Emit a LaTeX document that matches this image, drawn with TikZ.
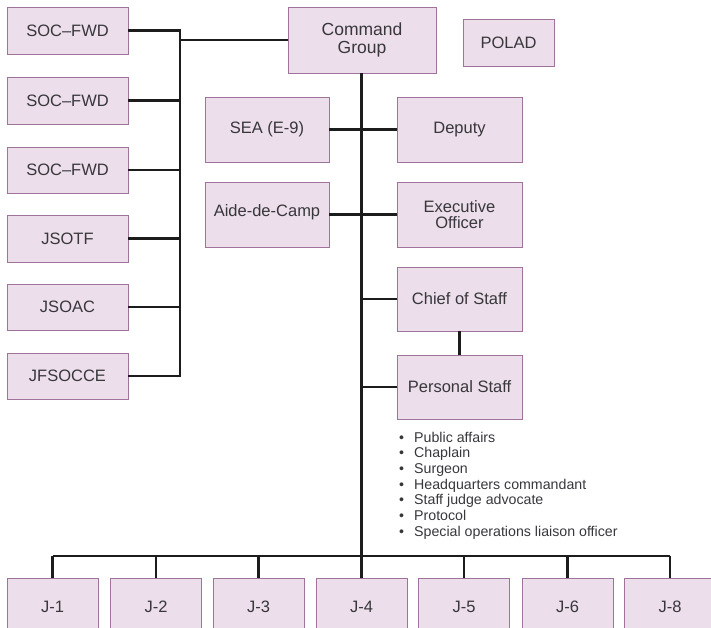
\documentclass[tikz,border=0pt]{standalone}
\usepackage{fontspec}
\setmainfont{Liberation Sans}
\definecolor{boxfill}{RGB}{236,222,234}
\definecolor{boxline}{RGB}{160,115,155}
\definecolor{txt}{RGB}{55,55,60}
\definecolor{conncol}{RGB}{28,28,28}
\begin{document}
\begin{tikzpicture}[x=1pt,y=-1pt,
  box/.style={draw=boxline, line width=0.9pt, fill=boxfill, text=txt,
    font=\fontsize{16.5}{16.5}\selectfont, align=center, inner sep=0pt},
  link/.style={draw=conncol, line width=2.6pt},
  bul/.style={anchor=base west, inner sep=0pt, text=txt, font=\fontsize{14.2}{15}\selectfont}]
\useasboundingbox (0,0) rectangle (711,628);
\clip (0,0) rectangle (711,628);
% left column
\node[box, minimum width=121pt, minimum height=47pt] (soc1) at (67.5,30.5) {SOC–FWD};
\node[box, minimum width=121pt, minimum height=47pt] (soc2) at (67.5,100.5) {SOC–FWD};
\node[box, minimum width=121pt, minimum height=46pt] (soc3) at (67.5,170) {SOC–FWD};
\node[box, minimum width=121pt, minimum height=47pt] (jsotf) at (67.5,238.5) {JSOTF};
\node[box, minimum width=121pt, minimum height=46pt] (jsoac) at (67.5,307) {JSOAC};
\node[box, minimum width=121pt, minimum height=46pt] (jfsocce) at (67.5,376) {JFSOCCE};
% command group
\node[box, minimum width=148pt, minimum height=66pt, font=\fontsize{17.5}{18}\selectfont] (cmd) at (362,40) {Command\\Group};
\node[box, minimum width=91pt, minimum height=47pt] (polad) at (508.5,42.5) {POLAD};
\node[box, minimum width=124pt, minimum height=65pt] (sea) at (267,129.5) {SEA (E-9)};
\node[box, minimum width=125pt, minimum height=65pt] (dep) at (459.5,129.5) {Deputy};
\node[box, minimum width=124pt, minimum height=65pt, text depth=8pt] (aide) at (267,214.5) {Aide-de-Camp};
\node[box, minimum width=125pt, minimum height=65pt] (exec) at (459.5,214.5) {Executive\\Officer};
\node[box, minimum width=125pt, minimum height=64pt] (chief) at (459.5,299) {Chief of Staff};
\node[box, minimum width=125pt, minimum height=64pt] (pers) at (459.5,387) {Personal Staff};
% bullets
\foreach \t [count=\i from 0] in {Public affairs,Chaplain,Surgeon,Headquarters commandant,Staff judge advocate,Protocol,Special operations liaison officer}{
  \node[bul] (b\i) at (399,{442+15.7*\i}) {\makebox[15pt][l]{\textbullet}\t};
}
% J boxes
\foreach \n/\x in {1/52.5,2/156,3/258.5,4/361.5,5/464,6/567.5,8/670}{
  \node[box, minimum width=91pt, minimum height=58pt] (j\n) at (\x,607) {J-\n};
}
% left bus
\coordinate (lbus) at (180,0);
\draw[link] (soc1.east) -- (soc1.east -| lbus) -- (jfsocce.east -| lbus) -- (jfsocce.east);
\foreach \b in {soc2,soc3,jsotf,jsoac}{
  \draw[link] (\b.east) -- (\b.east -| lbus);
}
\draw[link] (cmd.west) -- (cmd.west -| lbus);
% main vertical
\coordinate (jbus) at (361.5,556);
\draw[link] (cmd.south -| j4.north) -- (j4.north);
\draw[link] (sea.east) -- (dep.west);
\draw[link] (aide.east |- exec.west) -- (exec.west);
\draw[link] (chief.west -| j4.north) -- (chief.west);
\draw[link] (pers.west -| j4.north) -- (pers.west);
\draw[link] (chief.south) -- (pers.north);
% J bus
\draw[link] (j1.north |- jbus) -- (j8.north |- jbus);
\foreach \n in {1,2,3,5,6,8}{
  \draw[link] (j\n.north) -- (j\n.north |- jbus);
}
\end{tikzpicture}
\end{document}
